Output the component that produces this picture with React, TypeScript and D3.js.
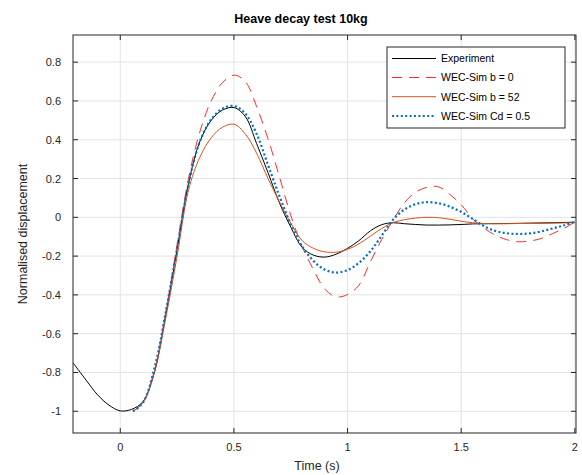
import React from "react";
import * as d3 from "d3";

const W = 582;
const H = 475;
const M = { left: 73, right: 576, top: 35, bottom: 433 };

const X_TICKS = [0, 0.5, 1, 1.5, 2];
const X_TICK_LABELS = ["0", "0.5", "1", "1.5", "2"];
const Y_TICKS = [-1, -0.8, -0.6, -0.4, -0.2, 0, 0.2, 0.4, 0.6, 0.8];
const Y_TICK_LABELS = ["-1", "-0.8", "-0.6", "-0.4", "-0.2", "0", "0.2", "0.4", "0.6", "0.8"];

const TITLE = "Heave decay test 10kg";
const X_LABEL = "Time (s)";
const Y_LABEL = "Normalised displacement";
const SERIES_NAMES = ["Experiment", "WEC-Sim b = 0", "WEC-Sim b = 52", "WEC-Sim Cd = 0.5"];

const T_EXP = [-0.208, -0.15, -0.1, -0.05, 0, 0.05, 0.1, 0.15, 0.2, 0.25, 0.3, 0.35, 0.4, 0.45, 0.5, 0.55, 0.6, 0.65, 0.7, 0.75, 0.8, 0.85, 0.9, 0.95, 1.0, 1.05, 1.1, 1.15, 1.2, 1.25, 1.3, 1.35, 1.4, 1.45, 1.5, 1.55, 1.6, 1.7, 1.8, 1.9, 2.0];
const Y_EXP = [-0.75, -0.84, -0.915, -0.968, -0.998, -0.99, -0.95, -0.8, -0.5, -0.165, 0.175, 0.39, 0.5, 0.553, 0.566, 0.52, 0.38, 0.23, 0.075, -0.05, -0.155, -0.195, -0.205, -0.19, -0.16, -0.12, -0.07, -0.038, -0.028, -0.033, -0.037, -0.04, -0.04, -0.039, -0.037, -0.034, -0.033, -0.032, -0.03, -0.028, -0.025];

const T_SIM = [0.056, 0.1, 0.15, 0.2, 0.25, 0.3, 0.35, 0.4, 0.45, 0.5, 0.55, 0.6, 0.65, 0.7, 0.75, 0.8, 0.85, 0.9, 0.95, 1.0, 1.05, 1.1, 1.15, 1.2, 1.25, 1.3, 1.35, 1.4, 1.45, 1.5, 1.55, 1.6, 1.65, 1.7, 1.75, 1.8, 1.85, 1.9, 1.95, 2.0];
const Y_B0 = [-1.0, -0.955, -0.79, -0.49, -0.14, 0.2, 0.44, 0.6, 0.695, 0.733, 0.7, 0.57, 0.405, 0.21, 0.01, -0.15, -0.27, -0.37, -0.41, -0.398, -0.35, -0.23, -0.115, -0.015, 0.075, 0.13, 0.155, 0.157, 0.118, 0.065, -0.008, -0.055, -0.092, -0.115, -0.126, -0.122, -0.11, -0.085, -0.058, -0.025];
const Y_B52 = [-1.0, -0.955, -0.8, -0.52, -0.2, 0.14, 0.31, 0.41, 0.465, 0.48, 0.43, 0.33, 0.2, 0.08, -0.03, -0.12, -0.16, -0.178, -0.18, -0.165, -0.137, -0.097, -0.058, -0.027, -0.012, -0.004, 0.0, -0.002, -0.01, -0.02, -0.028, -0.032, -0.033, -0.033, -0.032, -0.032, -0.031, -0.03, -0.029, -0.028];
const Y_CD = [-1.0, -0.955, -0.78, -0.49, -0.16, 0.17, 0.39, 0.505, 0.56, 0.574, 0.535, 0.43, 0.27, 0.11, -0.035, -0.15, -0.225, -0.27, -0.285, -0.272, -0.235, -0.175, -0.095, -0.012, 0.04, 0.068, 0.078, 0.073, 0.055, 0.028, -0.008, -0.045, -0.07, -0.082, -0.086, -0.083, -0.073, -0.058, -0.042, -0.023];

const FONT = "'Liberation Sans', Arial, Helvetica, sans-serif";
const AXIS_COLOR = "#262626";
const GRID_COLOR = "#e3e3e3";

const STYLES = [
  { color: "#000000", width: 1, dash: "none" },
  { color: "#ff2a2a", width: 1, dash: "10,7" },
  { color: "#d95319", width: 1, dash: "none" },
  { color: "#0072bd", width: 2.2, dash: "2,2.4" },
];

export default function App() {
  const x = d3.scaleLinear().domain([-0.208, 2.005]).range([M.left, M.right]);
  const y = d3.scaleLinear().domain([-1.112, 0.94]).range([M.bottom, M.top]);

  const line = d3
    .line<[number, number]>()
    .x((d) => x(d[0]))
    .y((d) => y(d[1]))
    .curve(d3.curveCatmullRom.alpha(0.5));

  const series = [
    T_EXP.map((t, i) => [t, Y_EXP[i]] as [number, number]),
    T_SIM.map((t, i) => [t, Y_B0[i]] as [number, number]),
    T_SIM.map((t, i) => [t, Y_B52[i]] as [number, number]),
    T_SIM.map((t, i) => [t, Y_CD[i]] as [number, number]),
  ];

  const tickLen = 5;
  const legend = { x: 387, y: 47, w: 178, h: 81 };
  const rowYs = [58.5, 77.5, 96.7, 116];

  return (
    <svg
      width={W}
      height={H}
      style={{ position: "absolute", left: 0, top: 0, background: "#fff" }}
      fontFamily={FONT}
    >
      <defs>
        <clipPath id="plotclip">
          <rect x={M.left} y={M.top} width={M.right - M.left} height={M.bottom - M.top} />
        </clipPath>
      </defs>
      <rect x={0} y={0} width={W} height={H} fill="#fff" />
      {X_TICKS.map((t) => (
        <line key={"gx" + t} x1={x(t)} x2={x(t)} y1={M.top} y2={M.bottom} stroke={GRID_COLOR} strokeWidth={1} />
      ))}
      {Y_TICKS.map((t) => (
        <line key={"gy" + t} x1={M.left} x2={M.right} y1={y(t)} y2={y(t)} stroke={GRID_COLOR} strokeWidth={1} />
      ))}
      <g clipPath="url(#plotclip)">
        {series.map((s, i) => (
          <path
            key={i}
            d={line(s) || ""}
            fill="none"
            stroke={STYLES[i].color}
            strokeWidth={STYLES[i].width}
            strokeDasharray={STYLES[i].dash}
          />
        ))}
      </g>
      <rect
        x={M.left}
        y={M.top}
        width={M.right - M.left}
        height={M.bottom - M.top}
        fill="none"
        stroke={AXIS_COLOR}
        strokeWidth={1}
      />
      {X_TICKS.map((t) => (
        <g key={"tx" + t}>
          <line x1={x(t)} x2={x(t)} y1={M.bottom} y2={M.bottom - tickLen} stroke={AXIS_COLOR} />
          <line x1={x(t)} x2={x(t)} y1={M.top} y2={M.top + tickLen} stroke={AXIS_COLOR} />
        </g>
      ))}
      {Y_TICKS.map((t) => (
        <g key={"ty" + t}>
          <line x1={M.left} x2={M.left + tickLen} y1={y(t)} y2={y(t)} stroke={AXIS_COLOR} />
          <line x1={M.right} x2={M.right - tickLen} y1={y(t)} y2={y(t)} stroke={AXIS_COLOR} />
        </g>
      ))}
      {X_TICKS.map((t, i) => (
        <text key={"lx" + t} x={x(t)} y={451} textAnchor="middle" fontSize={11} fill={AXIS_COLOR}>
          {X_TICK_LABELS[i]}
        </text>
      ))}
      {Y_TICKS.map((t, i) => (
        <text key={"ly" + t} x={61} y={y(t) + 4} textAnchor="end" fontSize={11} fill={AXIS_COLOR}>
          {Y_TICK_LABELS[i]}
        </text>
      ))}
      <text x={317} y={470} textAnchor="middle" fontSize={12.5} fill={AXIS_COLOR}>
        {X_LABEL}
      </text>
      <text
        transform={`translate(27, ${(M.top + M.bottom) / 2}) rotate(-90)`}
        textAnchor="middle"
        fontSize={12.5}
        fill={AXIS_COLOR}
      >
        {Y_LABEL}
      </text>
      <text x={301} y={23} textAnchor="middle" fontSize={12.5} fontWeight="bold" fill="#000">
        {TITLE}
      </text>
      <rect x={legend.x} y={legend.y} width={legend.w} height={legend.h} fill="#fff" stroke={AXIS_COLOR} strokeWidth={1} />
      {SERIES_NAMES.map((name, i) => (
        <g key={name}>
          <line
            x1={392}
            x2={436}
            y1={rowYs[i]}
            y2={rowYs[i]}
            stroke={STYLES[i].color}
            strokeWidth={STYLES[i].width}
            strokeDasharray={STYLES[i].dash}
          />
          <text x={441} y={rowYs[i] + 3.8} fontSize={10.5} fill="#000">
            {name}
          </text>
        </g>
      ))}
    </svg>
  );
}
